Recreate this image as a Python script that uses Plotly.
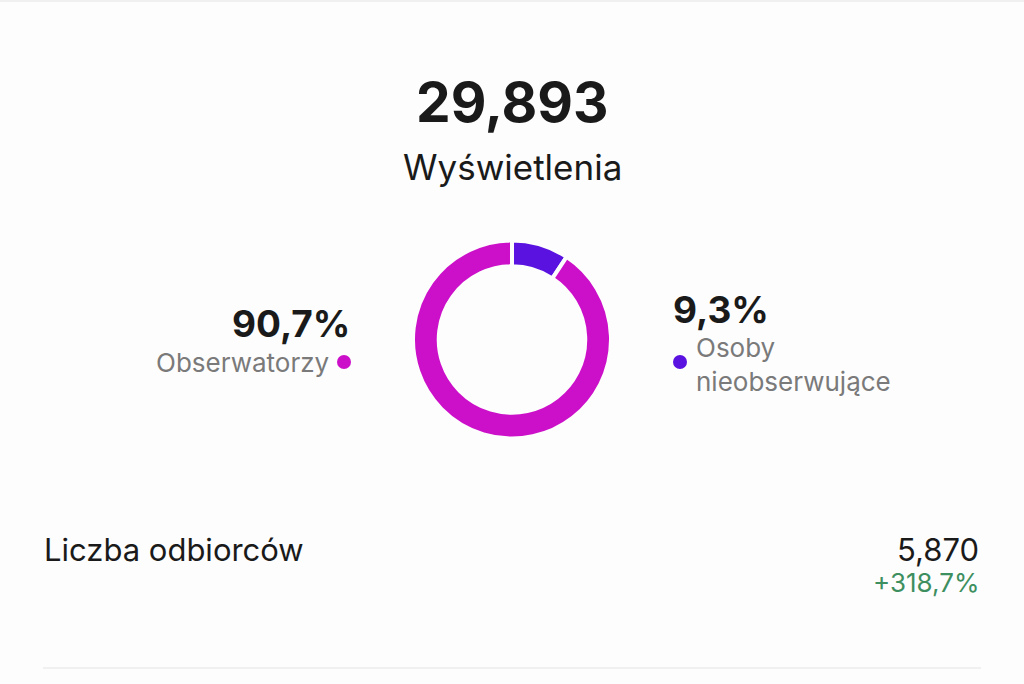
import plotly.graph_objects as go

# Data
total_views = "29,893"
views_label = "Wyświetlenia"
segment_labels = ["Osoby nieobserwujące", "Obserwatorzy"]
segment_values = [9.3, 90.7]
segment_colors = ["#5a12e0", "#cc10c9"]
audience_label = "Liczba odbiorców"
audience_value = "5,870"
audience_change = "+318,7%"

W, H = 1024, 684
FONT = "Inter"

def px(x):
    return x / W

def py(y):
    return 1 - y / H

fig = go.Figure()

cx, cy, r = 512, 339.5, 99
fig.add_trace(go.Pie(
    labels=segment_labels,
    values=segment_values,
    marker=dict(colors=segment_colors, line=dict(color="#fdfdfd", width=4)),
    hole=0.74,
    sort=False,
    direction="clockwise",
    rotation=0,
    textinfo="none",
    hoverinfo="label+percent",
    showlegend=False,
    domain=dict(x=[px(cx - r), px(cx + r)], y=[py(cy + r), py(cy - r)]),
))

def fmt_pct(v):
    return f"{v:.1f}".replace(".", ",") + "%"

ann = []
ann.append(dict(x=px(512), y=py(102), text=f"<b>{total_views}</b>", font=dict(size=55, color="#1a1a1a", family=FONT),
                xanchor="center", yanchor="middle"))
ann.append(dict(x=px(512), y=py(167), text=views_label, font=dict(size=35, color="#1a1a1a", family=FONT),
                xanchor="center", yanchor="middle"))
# left label
ann.append(dict(x=px(352), y=py(324), text=f"<b>{fmt_pct(segment_values[1])}</b>", font=dict(size=37, color="#1a1a1a", family=FONT),
                xanchor="right", yanchor="middle"))
ann.append(dict(x=px(331), y=py(362), text=segment_labels[1], font=dict(size=26, color="#7a7a7a", family=FONT),
                xanchor="right", yanchor="middle"))
# right label
ann.append(dict(x=px(671), y=py(309), text=f"<b>{fmt_pct(segment_values[0])}</b>", font=dict(size=37, color="#1a1a1a", family=FONT),
                xanchor="left", yanchor="middle"))
ann.append(dict(x=px(694), y=py(364), text="Osoby<br>nieobserwujące", font=dict(size=26, color="#7a7a7a", family=FONT),
                xanchor="left", yanchor="middle", align="left"))
# bottom row
ann.append(dict(x=px(42), y=py(549), text=audience_label, font=dict(size=31, color="#1a1a1a", family=FONT),
                xanchor="left", yanchor="middle"))
ann.append(dict(x=px(981), y=py(549), text=audience_value, font=dict(size=31, color="#1a1a1a", family=FONT),
                xanchor="right", yanchor="middle"))
ann.append(dict(x=px(981), y=py(582), text=audience_change, font=dict(size=26, color="#3d8f5f", family=FONT),
                xanchor="right", yanchor="middle"))

for a in ann:
    a.update(xref="paper", yref="paper", showarrow=False)

shapes = [
    dict(type="circle", xref="paper", yref="paper", x0=px(337), x1=px(351), y0=py(369), y1=py(355),
         fillcolor=segment_colors[1], line=dict(width=0)),
    dict(type="circle", xref="paper", yref="paper", x0=px(673), x1=px(687), y0=py(369), y1=py(355),
         fillcolor=segment_colors[0], line=dict(width=0)),
    dict(type="line", xref="paper", yref="paper", x0=px(43), x1=px(981), y0=py(668), y1=py(668),
         line=dict(color="#f0f0f0", width=2)),
    dict(type="line", xref="paper", yref="paper", x0=0, x1=1, y0=py(1), y1=py(1),
         line=dict(color="#f0f0f0", width=2)),
]

fig.update_layout(
    width=W, height=H,
    margin=dict(l=0, r=0, t=0, b=0),
    paper_bgcolor="#fdfdfd",
    plot_bgcolor="#fdfdfd",
    annotations=ann,
    shapes=shapes,
)

fig.write_html(
    "out.html",
    config={"displayModeBar": False},
    post_script="document.body.style.margin='0';document.body.style.overflow='hidden';document.body.style.background='#fdfdfd';",
)
